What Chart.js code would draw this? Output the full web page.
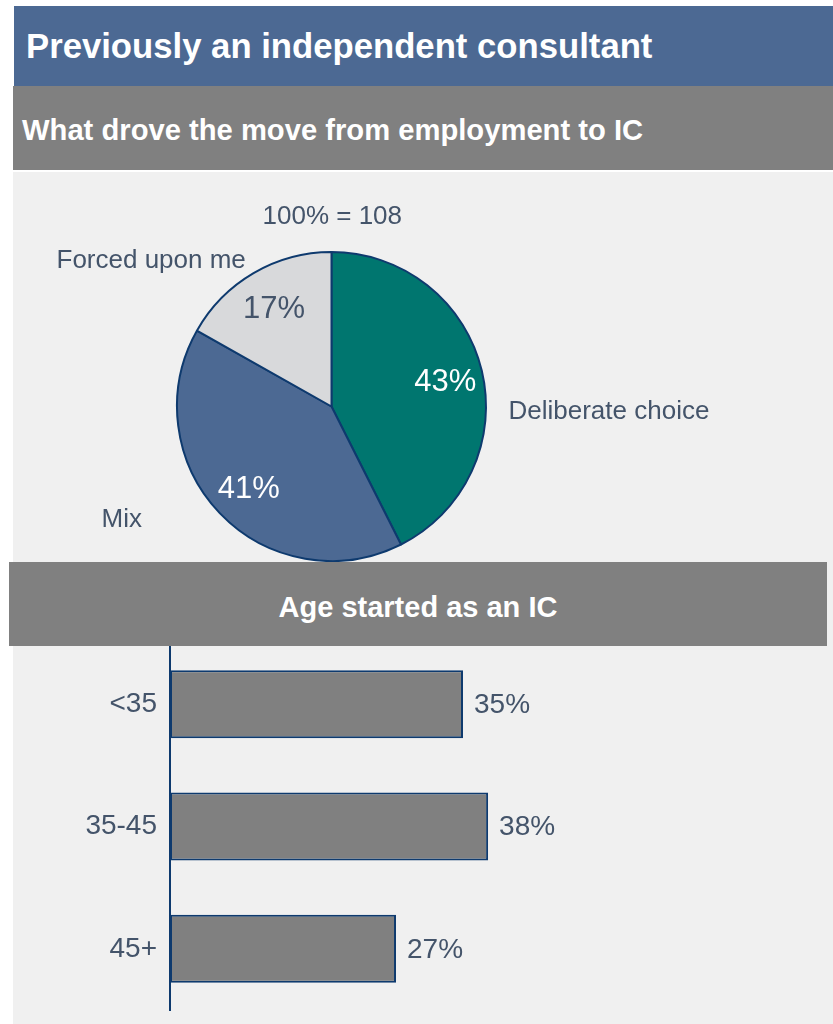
<!DOCTYPE html>
<html>
<head>
<meta charset="utf-8">
<script src="https://cdn.jsdelivr.net/npm/chart.js@4/dist/chart.umd.min.js"></script>
<style>
  body { margin: 0; background: #fff; font-family: "Liberation Sans", Arial, sans-serif; }
  #page { position: relative; width: 833px; height: 1024px; overflow: hidden; }
  .box { position: absolute; color: #fff; font-weight: bold; white-space: nowrap; }
  #title { left: 14px; top: 6px; width: 819px; height: 80px; line-height: 80px; background: #4c6993; font-size: 34.7px; padding-left: 12px; box-sizing: border-box; }
  #sub1 { left: 13px; top: 86px; width: 820px; height: 84px; line-height: 88px; background: #808080; font-size: 29.2px; padding-left: 9px; box-sizing: border-box; }
  #panel { position: absolute; left: 13px; top: 172px; width: 820px; height: 852px; background: #f0f0f0; }
  #sub2 { left: 9px; top: 562px; width: 818px; height: 84px; line-height: 90px; background: #808080; font-size: 29px; text-align: center; z-index: 2; }
  #pieWrap { position: absolute; left: 13px; top: 172px; width: 820px; height: 390px; }
  #barWrap { position: absolute; left: 13px; top: 643px; width: 820px; height: 381px; z-index: 1; }
</style>
</head>
<body>
<div id="page">
  <div id="title" class="box">Previously an independent consultant</div>
  <div id="sub1" class="box">What drove the move from employment to IC</div>
  <div id="panel"></div>
  <div id="pieWrap"><canvas id="pie"></canvas></div>
  <div id="sub2" class="box">Age started as an IC</div>
  <div id="barWrap"><canvas id="bar"></canvas></div>
</div>
<script>
// pie: what drove the move
const pieLabels = ["Deliberate choice", "Mix", "Forced upon me"];
const pieValues = [43, 41, 17];
const pieColors = ["#00766f", "#4c6993", "#d8d9db"];
const pieTextColors = ["#ffffff", "#ffffff", "#44546a"];
const pieBase = "100% = 108";

// bars: age started as an IC
const ageLabels = ["<35", "35-45", "45+"];
const ageValues = [35, 38, 27];

const slate = "#44546a";
const navy = "#0e3a6e";
const fontFamily = '"Liberation Sans", Arial, sans-serif';

// outside label offsets relative to pie centre (dx, dy in px, left aligned)
const pieOuter = [
  { text: pieBase, dx: -69, dy: -190 },
  { text: pieLabels[2], dx: -275, dy: -146 },
  { text: pieLabels[0], dx: 177, dy: 5 },
  { text: pieLabels[1], dx: -230, dy: 113 }
];

const pieLabelPlugin = {
  id: "pieLabels",
  afterDatasetsDraw(chart) {
    const ctx = chart.ctx;
    const arcs = chart.getDatasetMeta(0).data;
    ctx.save();
    ctx.textBaseline = "middle";
    ctx.textAlign = "center";
    ctx.font = "31px " + fontFamily;
    arcs.forEach((arc, i) => {
      const mid = (arc.startAngle + arc.endAngle) / 2;
      const r = arc.outerRadius * 0.75;
      ctx.fillStyle = pieTextColors[i];
      ctx.fillText(pieValues[i] + "%", arc.x + Math.cos(mid) * r + 1, arc.y + Math.sin(mid) * r + 3);
    });
    const c = arcs[0];
    ctx.textAlign = "left";
    ctx.font = "26px " + fontFamily;
    ctx.fillStyle = slate;
    pieOuter.forEach(l => ctx.fillText(l.text, c.x + l.dx, c.y + l.dy));
    ctx.restore();
  }
};

new Chart(document.getElementById("pie"), {
  type: "pie",
  data: {
    labels: pieLabels,
    datasets: [{ data: pieValues, backgroundColor: pieColors, borderColor: navy, borderWidth: 2 }]
  },
  options: {
    responsive: true,
    maintainAspectRatio: false,
    animation: false,
    layout: { padding: { left: 163, right: 346, top: 79, bottom: 0 } },
    plugins: { legend: { display: false }, tooltip: { enabled: false } }
  },
  plugins: [pieLabelPlugin]
});

const barValuePlugin = {
  id: "barValues",
  afterDatasetsDraw(chart) {
    const ctx = chart.ctx;
    ctx.save();
    ctx.font = "28px " + fontFamily;
    ctx.fillStyle = slate;
    ctx.textBaseline = "middle";
    ctx.textAlign = "left";
    chart.getDatasetMeta(0).data.forEach((bar, i) => {
      ctx.fillText(ageValues[i] + "%", bar.x + 11, bar.y + 1);
    });
    ctx.restore();
  }
};

new Chart(document.getElementById("bar"), {
  type: "bar",
  data: {
    labels: ageLabels,
    datasets: [{
      data: ageValues,
      backgroundColor: "#808080",
      borderColor: navy,
      borderWidth: 2,
      borderSkipped: false,
      categoryPercentage: 1,
      barPercentage: 0.556
    }]
  },
  options: {
    indexAxis: "y",
    responsive: true,
    maintainAspectRatio: false,
    animation: false,
    layout: { padding: { left: 0, right: 77, top: 0, bottom: 14 } },
    scales: {
      x: { display: false, min: 0, max: 70 },
      y: {
        afterFit: s => { s.width = 157; s.paddingTop = 0; s.paddingBottom = 0; },
        grid: { display: false, drawTicks: false },
        border: { display: true, color: navy, width: 2 },
        ticks: { color: slate, font: { size: 28, family: fontFamily }, padding: 13 }
      }
    },
    plugins: { legend: { display: false }, tooltip: { enabled: false } }
  },
  plugins: [barValuePlugin]
});
</script>
</body>
</html>
